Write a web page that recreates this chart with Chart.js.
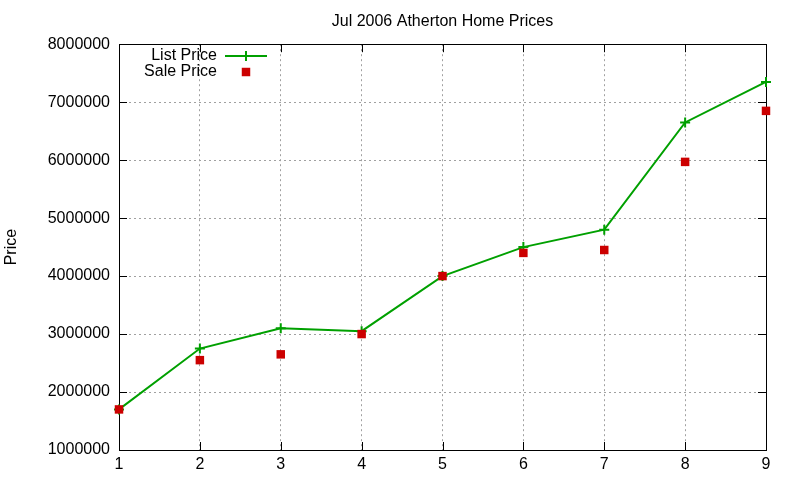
<!DOCTYPE html>
<html>
<head>
<meta charset="utf-8">
<script src="https://cdn.jsdelivr.net/npm/chart.js@4/dist/chart.umd.min.js"></script>
<style>
  html, body { margin: 0; padding: 0; background: #fff; }
  #wrap { width: 800px; height: 480px; }
</style>
</head>
<body>
<div id="wrap"><canvas id="price-chart" width="800" height="480"></canvas></div>
<script>
const homeIndex = [1, 2, 3, 4, 5, 6, 7, 8, 9];
const listPrices = [1700000, 2750000, 3100000, 3050000, 4000000, 4500000, 4800000, 6650000, 7350000];
const salePrices = [1700000, 2550000, 2650000, 3000000, 4000000, 4400000, 4450000, 5970000, 6850000];
const yTicks = [1000000, 2000000, 3000000, 4000000, 5000000, 6000000, 7000000, 8000000];

const fontName = '"Liberation Sans", Arial, sans-serif';

// gnuplot-like frame: full border plus inward tick marks on every side
const framePlugin = {
    id: 'frame',
    beforeDatasetsDraw(chart) {
        const ctx = chart.ctx;
        const a = chart.chartArea;
        const xs = chart.scales.x;
        const ys = chart.scales.y;
        ctx.save();
        ctx.strokeStyle = '#000';
        ctx.lineWidth = 1;
        ctx.beginPath();
        homeIndex.forEach(v => {
            const px = Math.round(xs.getPixelForValue(v)) + 0.5;
            ctx.moveTo(px, a.bottom); ctx.lineTo(px, a.bottom - 8);
            ctx.moveTo(px, a.top); ctx.lineTo(px, a.top + 8);
        });
        yTicks.forEach(v => {
            const py = Math.round(ys.getPixelForValue(v)) + 0.5;
            ctx.moveTo(a.left, py); ctx.lineTo(a.left + 8, py);
            ctx.moveTo(a.right, py); ctx.lineTo(a.right - 8, py);
        });
        ctx.stroke();
        ctx.strokeRect(Math.round(a.left) + 0.5, Math.round(a.top) + 0.5,
            Math.round(a.right - a.left), Math.round(a.bottom - a.top));
        ctx.restore();
    }
};

// key in the top-left corner, text right aligned before the sample
const keyPlugin = {
    id: 'key',
    afterDatasetsDraw(chart) {
        const ctx = chart.ctx;
        const sets = chart.data.datasets;
        ctx.save();
        ctx.font = '16px ' + fontName;
        ctx.textAlign = 'right';
        ctx.textBaseline = 'middle';
        sets.forEach((ds, i) => {
            const y = 56 + i * 16;
            ctx.fillStyle = '#000';
            ctx.fillText(ds.label, 217, y);
            ctx.strokeStyle = ds.pointBorderColor;
            ctx.fillStyle = ds.pointBackgroundColor;
            if (ds.showLine !== false) {
                ctx.lineWidth = 2;
                ctx.beginPath();
                ctx.moveTo(225, y); ctx.lineTo(267, y);
                ctx.stroke();
            }
            ctx.lineWidth = ds.pointBorderWidth;
            Chart.helpers.drawPoint(ctx, {
                pointStyle: ds.pointStyle,
                radius: ds.pointRadius,
                borderWidth: ds.pointBorderWidth
            }, 246, y);
        });
        ctx.restore();
    }
};

new Chart(document.getElementById('price-chart'), {
    type: 'scatter',
    data: {
        datasets: [{
            label: 'List Price',
            data: homeIndex.map((x, i) => ({ x: x, y: listPrices[i] })),
            order: 2,
            clip: false,
            showLine: true,
            borderColor: '#00a000',
            borderWidth: 2,
            pointStyle: 'cross',
            pointRadius: 5,
            pointBorderWidth: 2,
            pointBorderColor: '#00a000',
            pointBackgroundColor: '#00a000',
            pointHoverRadius: 5
        }, {
            label: 'Sale Price',
            data: homeIndex.map((x, i) => ({ x: x, y: salePrices[i] })),
            order: 1,
            clip: false,
            showLine: false,
            pointStyle: 'rect',
            pointRadius: 6,
            pointBorderWidth: 0,
            pointBorderColor: '#cc0000',
            pointBackgroundColor: '#cc0000',
            pointHoverRadius: 6
        }]
    },
    options: {
        responsive: false,
        animation: false,
        layout: { padding: { left: 0, right: 34, top: 0, bottom: 0 } },
        plugins: {
            legend: { display: false },
            tooltip: { enabled: false },
            title: {
                display: true,
                fullSize: false,
                text: 'Jul 2006 Atherton Home Prices',
                color: '#000',
                font: { family: fontName, size: 16, weight: 'normal' },
                padding: { top: 12, bottom: 13 }
            }
        },
        scales: {
            x: {
                type: 'linear',
                min: 1,
                max: 9,
                afterBuildTicks(scale) {
                    scale.ticks = homeIndex.map(v => ({ value: v }));
                },
                afterFit(scale) { scale.height = 30; },
                border: { display: false, dash: [2, 3] },
                grid: {
                    color: '#a0a0a0',
                    drawTicks: false
                },
                ticks: {
                    color: '#000',
                    padding: 5,
                    maxRotation: 0,
                    font: { family: fontName, size: 16 }
                }
            },
            y: {
                min: 1000000,
                max: 8000000,
                afterBuildTicks(scale) {
                    scale.ticks = yTicks.map(v => ({ value: v }));
                },
                afterFit(scale) { scale.width = 119; },
                border: { display: false, dash: [2, 3] },
                grid: {
                    color: '#a0a0a0',
                    drawTicks: false
                },
                ticks: {
                    color: '#000',
                    padding: 9,
                    font: { family: fontName, size: 16 },
                    callback: v => String(v)
                },
                title: {
                    display: true,
                    text: 'Price',
                    color: '#000',
                    font: { family: fontName, size: 16 },
                    padding: { top: 2, bottom: 0 }
                }
            }
        }
    },
    plugins: [framePlugin, keyPlugin]
});
</script>
</body>
</html>
